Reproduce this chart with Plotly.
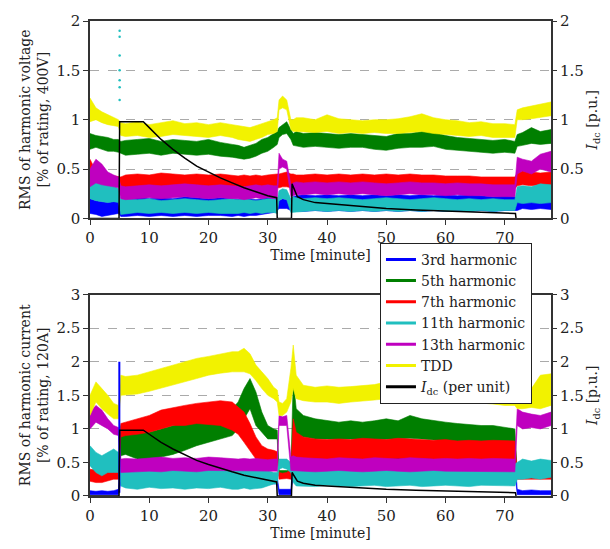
import plotly.graph_objects as go

# ---------------- data ----------------
T = [0, 1, 2, 3, 4,
     4.8, 5.2,
     6, 8, 10, 12, 14, 16, 18, 20, 22, 24,
     25, 26, 27, 28, 29, 30, 31,
     31.6, 31.9, 32.5, 33.2, 33.9,
     34.3, 34.8,
     36, 38, 40, 42, 44, 46, 48, 50, 52, 54, 56, 58, 60, 62, 64, 66, 68, 70,
     71.7, 72.1,
     73, 74.5, 76, 77.8]

# --- top panel: harmonic voltage [% of rating] (lower / upper envelope) ---
v3_lo = [0.05,0.04,0.02,0.03,0.04, 0.05,0.02, 0.02,0.03,0.02,0.03,0.02,0.03,0.02,0.03,0.03,0.02,
         0.03,0.02,0.03,0.03,0.04,0.05,0.06, 0.08,0.1,0.1,0.1,0.08, 0.08,0.08,
         0.07,0.08,0.07,0.08,0.07,0.08,0.07,0.08,0.07,0.08,0.07,0.08,0.07,0.08,0.07,0.08,0.07,0.08,
         0.08,0.08, 0.1,0.09,0.1,0.09]
v3_hi = [0.2,0.18,0.17,0.16,0.17, 0.18,0.12, 0.2,0.22,0.2,0.21,0.2,0.22,0.21,0.2,0.21,0.2,
         0.2,0.19,0.2,0.19,0.2,0.21,0.2, 0.2,0.18,0.2,0.19,0.2, 0.22,0.23,
         0.24,0.23,0.24,0.23,0.24,0.23,0.24,0.23,0.24,0.23,0.24,0.23,0.24,0.23,0.24,0.23,0.22,0.23,
         0.22,0.2, 0.2,0.19,0.2,0.21]
v5_lo = [0.7,0.72,0.7,0.68,0.68, 0.67,0.66, 0.64,0.65,0.66,0.64,0.66,0.65,0.64,0.65,0.63,0.62,
         0.61,0.6,0.61,0.63,0.66,0.68,0.72, 0.75,0.82,0.85,0.86,0.8, 0.74,0.73,
         0.72,0.73,0.72,0.71,0.72,0.72,0.7,0.69,0.71,0.72,0.72,0.73,0.7,0.69,0.68,0.67,0.66,0.67,
         0.66,0.73, 0.74,0.76,0.75,0.76]
v5_hi = [0.86,0.84,0.83,0.82,0.8, 0.8,0.78, 0.79,0.8,0.81,0.78,0.8,0.79,0.78,0.8,0.77,0.75,
         0.74,0.72,0.74,0.76,0.8,0.82,0.86, 0.88,0.92,0.95,0.98,0.9, 0.86,0.88,
         0.86,0.87,0.86,0.85,0.86,0.85,0.84,0.83,0.86,0.86,0.88,0.87,0.84,0.82,0.81,0.8,0.79,0.8,
         0.78,0.85, 0.87,0.92,0.88,0.9]
v7_lo = [0.35,0.34,0.33,0.33,0.33, 0.33,0.3, 0.31,0.32,0.31,0.32,0.31,0.32,0.31,0.32,0.31,0.31,
         0.3,0.31,0.3,0.31,0.3,0.31,0.31, 0.31,0.31,0.32,0.32,0.31, 0.31,0.31,
         0.31,0.32,0.31,0.32,0.31,0.31,0.32,0.31,0.31,0.32,0.31,0.31,0.31,0.3,0.31,0.3,0.3,0.3,
         0.3,0.33, 0.34,0.33,0.34,0.33]
v7_hi = [0.6,0.48,0.45,0.44,0.43, 0.42,0.42, 0.44,0.45,0.44,0.46,0.45,0.44,0.45,0.44,0.45,0.44,
         0.43,0.44,0.43,0.44,0.43,0.44,0.45, 0.45,0.45,0.46,0.47,0.45, 0.45,0.44,
         0.44,0.45,0.44,0.45,0.44,0.45,0.44,0.45,0.44,0.45,0.44,0.44,0.43,0.43,0.43,0.42,0.42,0.42,
         0.42,0.46, 0.48,0.47,0.46,0.47]
v11_lo = [0.2,0.18,0.17,0.16,0.17, 0.16,0.04, 0.05,0.06,0.05,0.06,0.05,0.06,0.05,0.06,0.05,0.05,
          0.05,0.06,0.05,0.06,0.05,0.06,0.06, 0.05,0.18,0.2,0.19,0.06, 0.06,0.07,
          0.07,0.08,0.07,0.08,0.07,0.08,0.07,0.08,0.07,0.08,0.07,0.08,0.07,0.08,0.07,0.08,0.07,0.08,
          0.08,0.16, 0.15,0.16,0.15,0.16]
v11_hi = [0.37,0.36,0.35,0.33,0.33, 0.3,0.2, 0.2,0.19,0.2,0.18,0.19,0.2,0.19,0.18,0.19,0.2,
          0.19,0.2,0.19,0.18,0.19,0.2,0.2, 0.19,0.28,0.3,0.29,0.2, 0.22,0.21,
          0.2,0.21,0.2,0.21,0.2,0.19,0.2,0.21,0.2,0.19,0.2,0.21,0.2,0.19,0.2,0.19,0.2,0.19,
          0.19,0.32, 0.33,0.32,0.35,0.34]
v13_lo = [0.32,0.36,0.34,0.33,0.32, 0.31,0.2, 0.19,0.2,0.21,0.2,0.21,0.22,0.21,0.2,0.21,0.2,
          0.2,0.19,0.2,0.21,0.2,0.21,0.2, 0.2,0.5,0.52,0.5,0.22, 0.23,0.24,
          0.24,0.25,0.24,0.25,0.24,0.25,0.24,0.23,0.24,0.25,0.24,0.24,0.23,0.24,0.23,0.23,0.22,0.22,
          0.22,0.45, 0.48,0.45,0.5,0.47]
v13_hi = [0.5,0.6,0.55,0.47,0.44, 0.42,0.33, 0.32,0.33,0.34,0.33,0.34,0.35,0.34,0.33,0.34,0.33,
          0.33,0.32,0.33,0.34,0.33,0.34,0.33, 0.33,0.66,0.6,0.58,0.34, 0.36,0.37,
          0.36,0.37,0.36,0.37,0.36,0.37,0.36,0.35,0.36,0.37,0.36,0.36,0.35,0.36,0.35,0.35,0.34,0.34,
          0.34,0.62, 0.6,0.58,0.65,0.68]
vtdd_lo = [0.98,1.0,0.97,0.95,0.94, 0.93,0.84, 0.83,0.84,0.82,0.83,0.85,0.84,0.83,0.82,0.84,0.82,
           0.8,0.79,0.78,0.8,0.82,0.85,0.86, 0.88,1.1,1.12,1.1,0.9, 0.88,0.88,
           0.88,0.87,0.88,0.86,0.87,0.86,0.87,0.86,0.86,0.87,0.88,0.86,0.85,0.84,0.83,0.84,0.82,0.82,
           0.82,1.0, 1.0,1.01,1.02,1.04]
vtdd_hi = [1.22,1.12,1.08,1.05,1.02, 1.0,0.97, 0.96,0.98,0.95,0.97,0.99,0.96,0.97,0.95,0.97,0.95,
           0.94,0.93,0.92,0.94,0.96,0.98,1.0, 1.02,1.2,1.24,1.2,1.0, 1.0,1.02,
           1.02,1.0,1.05,1.01,1.0,0.99,1.0,1.0,1.01,1.03,1.06,1.02,1.0,0.99,0.97,0.98,0.96,0.96,
           0.95,1.1, 1.12,1.14,1.16,1.18]
v_burst_t = [5.0, 5.0, 5.0, 5.0, 5.0, 5.0, 5.0]
v_burst_v = [1.9, 1.84, 1.65, 1.5, 1.4, 1.33, 1.2]

# --- bottom panel: harmonic current [% of rating] ---
i3_lo = [0.02,0.02,0.02,0.02,0.02, 0.02,0.2, 0.2,0.22,0.2,0.22,0.21,0.2,0.22,0.2,0.22,0.2,
         0.2,0.18,0.18,0.18,0.18,0.18,0.18, 0.18,0.02,0.02,0.02,0.02, 0.3,0.35,
         0.35,0.36,0.35,0.36,0.35,0.36,0.35,0.36,0.35,0.36,0.35,0.36,0.35,0.36,0.35,0.36,0.35,0.36,
         0.35,0.02, 0.02,0.02,0.02,0.02]
i3_hi = [0.08,0.07,0.08,0.07,0.08, 0.1,0.45, 0.5,0.52,0.55,0.5,0.52,0.55,0.5,0.52,0.5,0.48,
         0.45,0.42,0.38,0.35,0.35,0.34,0.3, 0.28,0.1,0.1,0.1,0.1, 0.55,0.58,
         0.6,0.58,0.6,0.58,0.6,0.59,0.6,0.58,0.6,0.59,0.6,0.58,0.6,0.58,0.59,0.58,0.57,0.58,
         0.58,0.1, 0.08,0.09,0.08,0.08]
i5_lo = [0.28,0.3,0.3,0.3,0.3, 0.3,0.6, 0.62,0.55,0.52,0.58,0.62,0.68,0.75,0.8,0.85,0.9,
         1.0,1.15,1.3,1.05,0.95,0.85,0.85, 0.85,0.3,0.3,0.3,0.3, 1.0,0.9,
         0.88,0.85,0.85,0.84,0.85,0.83,0.84,0.84,0.85,0.86,0.85,0.84,0.82,0.8,0.8,0.79,0.78,0.78,
         0.78,0.28, 0.28,0.28,0.28,0.28]
i5_hi = [0.38,0.4,0.4,0.4,0.42, 0.42,1.05, 1.0,1.0,0.95,1.0,1.05,1.1,1.12,1.15,1.2,1.3,
         1.4,1.6,1.75,1.55,1.25,1.05,1.0, 0.98,0.38,0.38,0.38,0.4, 1.75,1.3,
         1.2,1.15,1.12,1.1,1.12,1.1,1.12,1.15,1.12,1.2,1.15,1.12,1.1,1.08,1.06,1.05,1.05,1.02,
         1.0,0.36, 0.36,0.36,0.36,0.36]
i7_lo = [0.22,0.2,0.2,0.22,0.25, 0.25,0.88, 0.9,0.92,0.95,1.0,1.05,1.05,1.08,1.07,1.05,0.98,
         0.92,0.8,0.68,0.55,0.5,0.48,0.5, 0.5,0.25,0.25,0.26,0.25, 0.5,0.55,
         0.55,0.56,0.55,0.54,0.56,0.55,0.54,0.55,0.56,0.55,0.56,0.55,0.54,0.55,0.54,0.55,0.54,0.55,
         0.55,0.25, 0.25,0.25,0.25,0.25]
i7_hi = [0.4,0.38,0.36,0.38,0.4, 0.4,1.08, 1.1,1.15,1.2,1.28,1.32,1.35,1.38,1.4,1.42,1.4,
         1.32,1.25,1.08,0.88,0.75,0.7,0.68, 0.66,0.35,0.34,0.35,0.4, 1.15,0.95,
         0.88,0.85,0.84,0.85,0.84,0.86,0.85,0.84,0.86,0.85,0.84,0.83,0.84,0.82,0.83,0.82,0.83,0.82,
         0.82,0.35, 0.35,0.35,0.34,0.35]
i11_lo = [0.45,0.35,0.3,0.35,0.35, 0.35,0.15, 0.12,0.1,0.13,0.11,0.12,0.1,0.12,0.11,0.13,0.1,
          0.1,0.12,0.1,0.11,0.12,0.15,0.18, 0.18,0.4,0.42,0.4,0.35, 0.2,0.15,
          0.15,0.14,0.16,0.15,0.14,0.15,0.16,0.14,0.15,0.16,0.14,0.15,0.16,0.15,0.14,0.16,0.15,0.15,
          0.15,0.25, 0.25,0.27,0.25,0.28]
i11_hi = [0.75,0.65,0.6,0.65,0.7, 0.65,0.45, 0.45,0.42,0.45,0.43,0.46,0.42,0.44,0.45,0.43,0.42,
          0.42,0.4,0.42,0.38,0.4,0.38,0.35, 0.35,0.55,0.55,0.55,0.5, 0.45,0.45,
          0.48,0.5,0.47,0.49,0.5,0.47,0.49,0.5,0.48,0.5,0.47,0.49,0.5,0.48,0.47,0.5,0.48,0.5,
          0.48,0.5, 0.55,0.52,0.55,0.53]
i13_lo = [1.0,1.1,1.05,1.0,0.92, 0.9,0.35, 0.35,0.36,0.37,0.36,0.38,0.37,0.36,0.38,0.37,0.38,
          0.37,0.38,0.37,0.38,0.37,0.38,0.37, 0.37,1.05,1.05,1.05,0.38, 0.38,0.37,
          0.37,0.36,0.37,0.38,0.37,0.36,0.37,0.38,0.37,0.36,0.37,0.38,0.37,0.36,0.37,0.36,0.37,0.36,
          0.36,1.05, 1.0,1.02,1.0,1.05]
i13_hi = [1.25,1.35,1.28,1.15,1.05, 1.02,0.55, 0.56,0.55,0.57,0.58,0.56,0.57,0.56,0.58,0.57,0.56,
          0.55,0.56,0.55,0.56,0.55,0.54,0.55, 0.55,1.2,1.18,1.2,0.58, 0.6,0.58,
          0.57,0.56,0.55,0.57,0.56,0.55,0.57,0.56,0.55,0.57,0.56,0.55,0.56,0.55,0.56,0.55,0.56,0.55,
          0.55,1.3, 1.25,1.22,1.2,1.25]
itdd_lo = [1.2,1.4,1.3,1.22,1.15, 1.15,1.5, 1.5,1.52,1.56,1.6,1.65,1.7,1.75,1.8,1.83,1.85,
           1.85,1.85,1.82,1.72,1.6,1.5,1.45, 1.4,1.2,1.2,1.25,1.4, 1.6,1.45,
           1.42,1.4,1.4,1.38,1.4,1.42,1.43,1.45,1.45,1.46,1.45,1.44,1.42,1.42,1.4,1.38,1.37,1.35,
           1.35,1.3, 1.3,1.32,1.3,1.35]
itdd_hi = [1.5,1.7,1.6,1.5,1.38, 1.35,1.8, 1.78,1.8,1.85,1.9,1.95,2.0,2.05,2.08,2.12,2.15,
           2.15,2.2,2.12,1.95,1.85,1.75,1.62, 1.58,1.4,1.38,1.45,1.9, 2.25,1.8,
           1.65,1.62,1.64,1.62,1.63,1.65,1.66,1.7,1.7,1.72,1.7,1.68,1.65,1.66,1.63,1.62,1.6,1.6,
           1.58,1.6, 1.55,1.6,1.8,1.82]
i3_spike_t = [4.95, 4.95]
i3_spike_v = [0.05, 2.0]

# --- DC current I_dc [p.u.] ---
idc_t = [0, 4.9, 5.0, 9.0, 10, 12, 14, 16, 18, 20, 22, 24, 26, 28, 30, 31.5, 31.6,
         34.0, 34.1, 35, 36, 38, 40, 45, 50, 55, 60, 65, 70, 71.8, 71.9]
idc_v = [0, 0, 0.98, 0.98, 0.92, 0.8, 0.7, 0.61, 0.53, 0.47, 0.41, 0.36, 0.31, 0.27, 0.23, 0.21, 0,
         0, 0.35, 0.22, 0.19, 0.16, 0.15, 0.12, 0.1, 0.085, 0.075, 0.065, 0.055, 0.05, 0]

names = ["3rd harmonic", "5th harmonic", "7th harmonic", "11th harmonic", "13th harmonic", "TDD"]
colors = ["#0000ff", "#007f00", "#ff0000", "#20bfbf", "#bf00bf", "#f2f200"]
x_ticks = [0, 10, 20, 30, 40, 50, 60, 70]

FONT = "DejaVu Serif"
fig = go.Figure()

def band(lo, hi, color, xa, ya):
    fig.add_trace(go.Scatter(
        x=T + T[::-1], y=hi + lo[::-1], fill="toself", fillcolor=color,
        mode="lines", line=dict(color=color, width=0.6), showlegend=False,
        hoverinfo="skip", xaxis=xa, yaxis=ya))

top = [(v3_lo, v3_hi), (v5_lo, v5_hi), (v7_lo, v7_hi), (v11_lo, v11_hi), (v13_lo, v13_hi), (vtdd_lo, vtdd_hi)]
bot = [(i3_lo, i3_hi), (i5_lo, i5_hi), (i7_lo, i7_hi), (i11_lo, i11_hi), (i13_lo, i13_hi), (itdd_lo, itdd_hi)]
for (lo, hi), c in zip(top, colors):
    band(lo, hi, c, "x", "y")
for (lo, hi), c in zip(bot, colors):
    band(lo, hi, c, "x2", "y2")

fig.add_trace(go.Scatter(x=v_burst_t, y=v_burst_v, mode="markers",
                         marker=dict(color=colors[3], size=2.5), showlegend=False,
                         xaxis="x", yaxis="y"))
fig.add_trace(go.Scatter(x=i3_spike_t, y=i3_spike_v, mode="lines",
                         line=dict(color=colors[0], width=2), showlegend=False,
                         xaxis="x2", yaxis="y2"))
fig.add_trace(go.Scatter(x=idc_t, y=idc_v, mode="lines", line=dict(color="black", width=1.5),
                         showlegend=False, xaxis="x", yaxis="y3"))
fig.add_trace(go.Scatter(x=idc_t, y=idc_v, mode="lines", line=dict(color="black", width=1.5),
                         showlegend=False, xaxis="x2", yaxis="y4"))

# legend entries
for n, c in zip(names, colors):
    fig.add_trace(go.Scatter(x=[None], y=[None], mode="lines", name=n,
                             line=dict(color=c, width=3), xaxis="x2", yaxis="y2"))
fig.add_trace(go.Scatter(x=[None], y=[None], mode="lines",
                         name="<i>I</i><sub>dc</sub> (per unit)",
                         line=dict(color="black", width=3), xaxis="x2", yaxis="y2"))

tickfont = dict(family=FONT, size=15, color="#222")
titlefont = dict(family=FONT, size=14, color="#222")
xcommon = dict(range=[0, 77.8], tickvals=x_ticks, ticks="outside", ticklen=5, tickcolor="#333",
               showline=True, linecolor="#333", linewidth=1.5, mirror=True, showgrid=False,
               zeroline=False, tickfont=tickfont)
ycommon = dict(ticks="outside", ticklen=5, tickcolor="#333", showline=True, linecolor="#333",
               linewidth=1.5, mirror=True, showgrid=True, gridcolor="#aaaaaa", griddash="dash",
               gridwidth=1, zeroline=False, tickfont=tickfont)

fig.update_layout(
    width=610, height=549, paper_bgcolor="white", plot_bgcolor="white",
    margin=dict(l=90, r=56, t=19, b=44),
    font=dict(family=FONT, size=14, color="#222"),
    xaxis=dict(domain=[0, 1], anchor="y",
               title=dict(text="Time [minute]", font=titlefont, standoff=2), **xcommon),
    xaxis2=dict(domain=[0, 1], anchor="y2",
                title=dict(text="Time [minute]", font=titlefont, standoff=2), **xcommon),
    yaxis=dict(domain=[0.5844, 1], anchor="x", range=[0, 2], tickvals=[0, 0.5, 1, 1.5, 2],
               ticktext=["0", "0.5", "1", "1.5", "2"],
               title=dict(text="RMS of harmonic voltage<br>[% of rating, 400V]", font=titlefont,
                          standoff=4), **ycommon),
    yaxis2=dict(domain=[0, 0.4239], anchor="x2", range=[0, 3],
                tickvals=[0, 0.5, 1, 1.5, 2, 2.5, 3],
                ticktext=["0", "0.5", "1", "1.5", "2", "2.5", "3"],
                title=dict(text="RMS of harmonic current<br>[% of rating, 120A]", font=titlefont,
                           standoff=4), **ycommon),
    yaxis3=dict(overlaying="y", side="right", anchor="x", range=[0, 2],
                tickvals=[0, 0.5, 1, 1.5, 2], ticktext=["0", "0.5", "1", "1.5", "2"],
                ticks="outside", ticklen=5, tickcolor="#333", showgrid=False, zeroline=False,
                showline=False, tickfont=tickfont,
                title=dict(text="<i>I</i><sub>dc</sub> [p.u.]", font=titlefont, standoff=4)),
    yaxis4=dict(overlaying="y2", side="right", anchor="x2", range=[0, 3],
                tickvals=[0, 0.5, 1, 1.5, 2, 2.5, 3],
                ticktext=["0", "0.5", "1", "1.5", "2", "2.5", "3"],
                ticks="outside", ticklen=5, tickcolor="#333", showgrid=False, zeroline=False,
                showline=False, tickfont=tickfont,
                title=dict(text="<i>I</i><sub>dc</sub> [p.u.]", font=titlefont, standoff=4)),
    legend=dict(x=0.629, y=0.533, xanchor="left", yanchor="top", bgcolor="white",
                bordercolor="#222", borderwidth=1, font=dict(family=FONT, size=14, color="#222"),
                tracegroupgap=0, itemwidth=30),
    showlegend=True,
)

fig.write_html("out.html")
